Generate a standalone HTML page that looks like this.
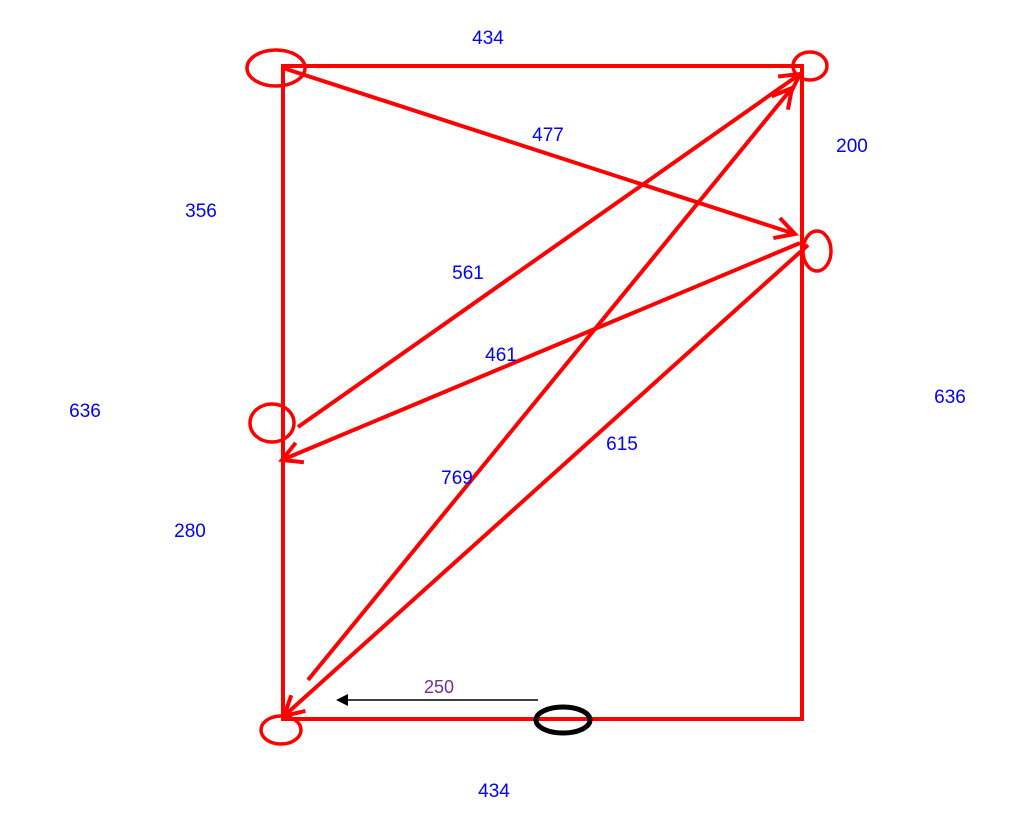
<!DOCTYPE html>
<html><head><meta charset="utf-8"><style>
html,body{margin:0;padding:0;background:#fff;}
svg{display:block;}
text{font-family:"Liberation Sans",sans-serif;font-size:19px;fill:#0000ff;text-anchor:middle;dominant-baseline:middle;}
</style></head><body>
<svg id="d" width="1012" height="822" viewBox="0 0 1012 822">
<rect x="283" y="66" width="519" height="653" fill="none" stroke="#ff0000" stroke-width="4"/>
<g id="nodes"></g>
<g id="edges"></g>
<g id="labels"></g>
<line x1="538" y1="700" x2="346" y2="700" stroke="#000" stroke-width="1.5"/>
<polygon points="336,700 348,694 348,706" fill="#000"/>
<ellipse cx="563" cy="720" rx="27" ry="13" fill="none" stroke="#000" stroke-width="5"/>
<text x="439" y="688" style="fill:#7030a0;font-size:18px">250</text>
</svg>
<script>
const nodeCx=[276,810,817,272,281];
const nodeCy=[68,66,251,423,730];
const nodeRx=[29,17,14,22,20];
const nodeRy=[18,14,20,19,14];
const edgeX1=[283,298,800,308,808];
const edgeY1=[68,427,243,680,245];
const edgeX2=[795,800,282,792,284];
const edgeY2=[234,74,460,88,716];
const labelText=["434","477","200","356","561","461","636","636","280","769","615","434"];
const labelX=[488,548,852,201,468,501,85,950,190,457,622,494];
const labelY=[39,136,147,212,274,356,412,398,532,479,445,792];
const NS="http://www.w3.org/2000/svg";
const gN=document.getElementById('nodes'),gE=document.getElementById('edges'),gL=document.getElementById('labels');
for(let i=0;i<nodeCx.length;i++){
 const e=document.createElementNS(NS,'ellipse');
 e.setAttribute('cx',nodeCx[i]);e.setAttribute('cy',nodeCy[i]);e.setAttribute('rx',nodeRx[i]);e.setAttribute('ry',nodeRy[i]);
 e.setAttribute('fill','none');e.setAttribute('stroke','#ff0000');e.setAttribute('stroke-width','3.5');
 
 
 gN.appendChild(e);
}
for(let i=0;i<edgeX1.length;i++){
 const x1=edgeX1[i],y1=edgeY1[i],x2=edgeX2[i],y2=edgeY2[i];
 const ang=Math.atan2(y2-y1,x2-x1),L=22,s=0.5;
 const a1x=x2-L*Math.cos(ang-s),a1y=y2-L*Math.sin(ang-s),a2x=x2-L*Math.cos(ang+s),a2y=y2-L*Math.sin(ang+s);
 const p=document.createElementNS(NS,'path');
 p.setAttribute('d',`M${x1},${y1}L${x2},${y2}M${a1x},${a1y}L${x2},${y2}L${a2x},${a2y}`);
 p.setAttribute('fill','none');p.setAttribute('stroke','#ff0000');p.setAttribute('stroke-width','4');
 
 
 gE.appendChild(p);
}
for(let i=0;i<labelText.length;i++){
 const t=document.createElementNS(NS,'text');
 t.setAttribute('x',labelX[i]);t.setAttribute('y',labelY[i]);t.textContent=labelText[i];
 
 
 gL.appendChild(t);
}
</script>
</body></html>
